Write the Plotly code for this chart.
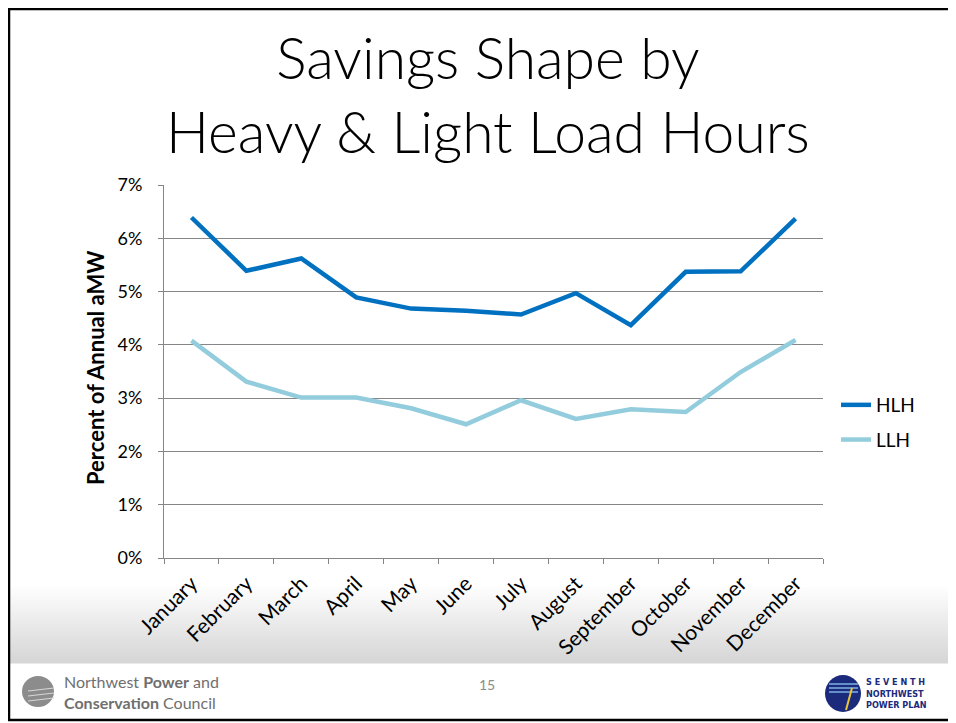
import plotly.graph_objects as go

months = ["January", "February", "March", "April", "May", "June", "July",
          "August", "September", "October", "November", "December"]
hlh = [6.39, 5.39, 5.62, 4.89, 4.68, 4.64, 4.57, 4.97, 4.37, 5.37, 5.38, 6.37]
llh = [4.08, 3.31, 3.01, 3.01, 2.81, 2.51, 2.96, 2.61, 2.79, 2.74, 3.49, 4.09]
series_names = ["HLH", "LLH"]
ytick_vals = [0, 1, 2, 3, 4, 5, 6, 7]
ytick_text = ["0%", "1%", "2%", "3%", "4%", "5%", "6%", "7%"]

OFF = 8  # page body margin
W, H = 956 - OFF, 723 - OFF
# plot area in reference (page) pixels
L, R, T, B = 164, 823, 185, 558


def px(x):
    return (x - L) / (R - L)


def py(y):
    return (B - y) / (B - T)


FONT = "Lato"
fig = go.Figure()
fig.add_trace(go.Scatter(x=months, y=hlh, name=series_names[0], mode="lines",
                         line=dict(color="#0070C0", width=4.5), legendgroup="a"))
fig.add_trace(go.Scatter(x=months, y=llh, name=series_names[1], mode="lines",
                         line=dict(color="#93CDDD", width=4.5), legendgroup="b"))

shapes = []
# gradient band
n = 39
y0, y1 = 585, 663
for i in range(n):
    t = i / (n - 1)
    c = int(255 - t * (255 - 214))
    ya = y0 + (y1 - y0) * i / n
    yb = y0 + (y1 - y0) * (i + 1) / n + 0.6
    shapes.append(dict(type="rect", xref="paper", yref="paper", layer="below",
                       x0=px(9), x1=px(952), y0=py(yb), y1=py(ya),
                       fillcolor=f"rgb({c},{c},{c})", line=dict(width=0)))
# frame
shapes.append(dict(type="rect", xref="paper", yref="paper",
                   x0=px(9), x1=px(953), y0=py(720), y1=py(9),
                   line=dict(color="black", width=2.5)))
# left logo globe
shapes.append(dict(type="circle", xref="paper", yref="paper",
                   x0=px(22), x1=px(54), y0=py(707), y1=py(676),
                   fillcolor="#8c8c8c", line=dict(width=0)))
for yy in [688, 693, 698]:
    shapes.append(dict(type="line", xref="paper", yref="paper",
                       x0=px(28), x1=px(54), y0=py(yy + 3), y1=py(yy),
                       line=dict(color="#d8d8d8", width=1)))
# right logo circle
shapes.append(dict(type="circle", xref="paper", yref="paper",
                   x0=px(825), x1=px(861), y0=py(712), y1=py(675),
                   fillcolor="#1b2a7a", line=dict(width=0)))
for yy in [684, 688, 692]:
    shapes.append(dict(type="line", xref="paper", yref="paper",
                       x0=px(829), x1=px(858), y0=py(yy), y1=py(yy),
                       line=dict(color="#7fb2e5", width=1.5)))
shapes.append(dict(type="line", xref="paper", yref="paper",
                   x0=px(846), x1=px(852), y0=py(710), y1=py(688),
                   line=dict(color="#e8c53a", width=2)))

annotations = [
    dict(text="Savings Shape by<br>Heavy &amp; Light Load Hours", x=px(488), y=py(94),
         xref="paper", yref="paper", showarrow=False, xanchor="center", yanchor="middle",
         font=dict(family=FONT, size=57, color="black", weight=300)),
    dict(text="<b>Percent of Annual aMW</b>", x=px(95), y=py(368), textangle=-90,
         xref="paper", yref="paper", showarrow=False, xanchor="center", yanchor="middle",
         font=dict(family=FONT, size=22, color="black")),
    dict(text="Northwest <b>Power</b> and<br><b>Conservation</b> Council", x=px(62), y=py(692),
         xref="paper", yref="paper", showarrow=False, xanchor="left", yanchor="middle",
         align="left", font=dict(family=FONT, size=16, color="#6f6f6f")),
    dict(text="15", x=px(487), y=py(695), xref="paper", yref="paper", showarrow=False,
         font=dict(family=FONT, size=14, color="#8c8c8c")),
    dict(text="<b>S E V E N T H<br>NORTHWEST<br>POWER PLAN</b>", x=px(864), y=py(693),
         xref="paper", yref="paper", showarrow=False, xanchor="left", yanchor="middle",
         align="left", font=dict(family="DejaVu Sans Condensed", size=9, color="#1b2a7a")),
]

fig.update_layout(
    width=W, height=H,
    margin=dict(l=L - OFF, r=956 - R, t=T - OFF, b=723 - B, pad=0),
    paper_bgcolor="white", plot_bgcolor="rgba(0,0,0,0)",
    font=dict(family=FONT, size=19, color="black"),
    showlegend=True,
    legend=dict(x=px(836), y=py(386), xanchor="left", yanchor="top",
                font=dict(family=FONT, size=19), tracegroupgap=7,
                bgcolor="rgba(0,0,0,0)", itemwidth=30),
    shapes=shapes, annotations=annotations,
    xaxis=dict(type="category", tickangle=-45, showgrid=False, range=[-0.5, 11.5],
               showline=True, linecolor="#868686", linewidth=1,
               ticks="outside", tickson="boundaries", ticklen=5, tickcolor="#868686",
               ticklabelstandoff=4,
               tickfont=dict(family=FONT, size=21)),
    yaxis=dict(range=[0, 7], tickvals=ytick_vals, ticktext=ytick_text,
               showgrid=True, gridcolor="#868686", gridwidth=1,
               showline=True, linecolor="#868686", linewidth=1,
               ticks="outside", ticklen=5, tickcolor="#868686",
               ticklabelstandoff=12,
               tickfont=dict(family=FONT, size=18), zeroline=False),
)

fig.write_html("out.html")
